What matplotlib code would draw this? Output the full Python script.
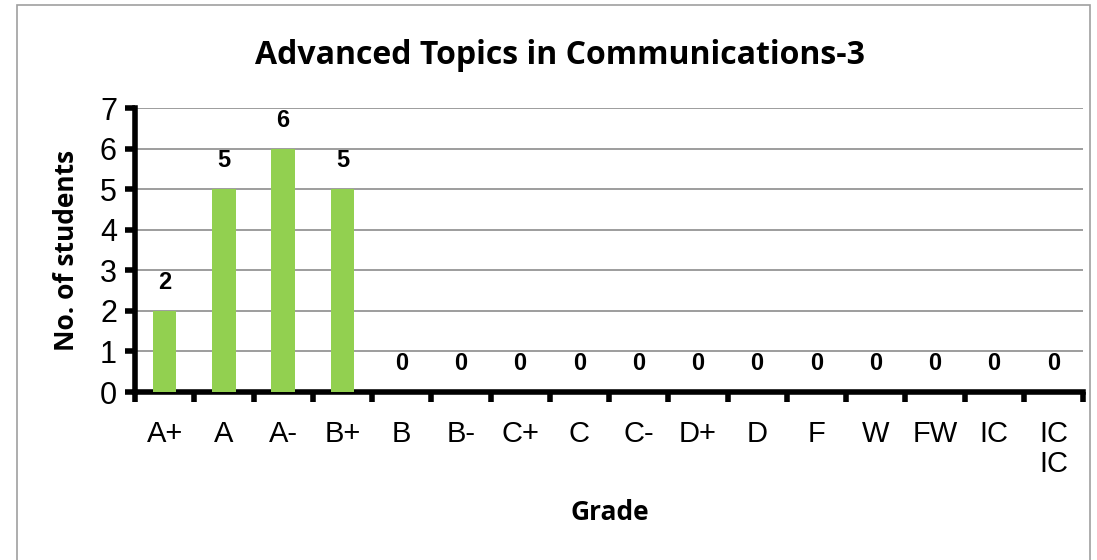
import matplotlib
matplotlib.use("Agg")
import matplotlib.pyplot as plt
import numpy as np
from matplotlib.patches import Rectangle

categories = ["A+", "A", "A-", "B+", "B", "B-", "C+", "C", "C-", "D+", "D", "F", "W", "FW", "IC", "IC\nIC"]
counts = [2, 5, 6, 5, 0, 0, 0, 0, 0, 0, 0, 0, 0, 0, 0, 0]
yticks = [0, 1, 2, 3, 4, 5, 6, 7]

fig = plt.figure(figsize=(10.97, 5.6), dpi=100)
fig.patches.append(Rectangle((17/1097, -0.1), (1090-17)/1097, 1.1 - 5/560, transform=fig.transFigure,
                             fill=False, edgecolor="#a0a0a0", linewidth=1.2))
ax = fig.add_axes([135/1097, 1 - 392/560, (1083-135)/1097, (392-108)/560])

x = np.arange(len(categories))
ax.bar(x, counts, width=0.4, color="#92d050", zorder=3)
for xi, v in zip(x, counts):
    ax.text(xi, v + 0.42, str(v), ha="center", va="bottom", fontsize=17, fontweight="bold",
            family="Liberation Sans", zorder=4)

ax.set_xlim(-0.5, len(categories) - 0.5)
ax.set_ylim(0, 7)
ax.set_yticks(yticks)
ax.set_yticklabels([str(t) for t in yticks], family="Liberation Sans", fontsize=22)
ax.set_xticks(x)
ax.set_xticklabels(categories, family="Liberation Sans", fontsize=21, linespacing=1.1, va="top")
ax.set_xticks(np.arange(-0.5, len(categories), 1.0), minor=True)
ax.tick_params(axis="x", which="major", length=0, pad=20)
ax.tick_params(axis="x", which="minor", length=7, width=4, direction="out", color="black")
ax.tick_params(axis="y", which="major", length=7, width=4, direction="out", color="black", pad=6)

ax.grid(axis="y", color="#8c8c8c", linewidth=1.2, zorder=0)
for s in ["top", "right"]:
    ax.spines[s].set_visible(False)
ax.spines["left"].set_linewidth(4)
ax.spines["bottom"].set_linewidth(4)

fig.text(560/1097, 1 - 55/560, "Advanced Topics in Communications-3", ha="center", va="center",
         fontsize=23, fontweight="bold", family="Open Sans")
fig.text(66/1097, 1 - 250/560, "No. of students", ha="center", va="center", rotation=90,
         fontsize=19, fontweight="bold", family="Open Sans")
fig.text(610/1097, 1 - 513/560, "Grade", ha="center", va="center",
         fontsize=19, fontweight="bold", family="Open Sans")

fig.savefig("out.png", dpi=100)
